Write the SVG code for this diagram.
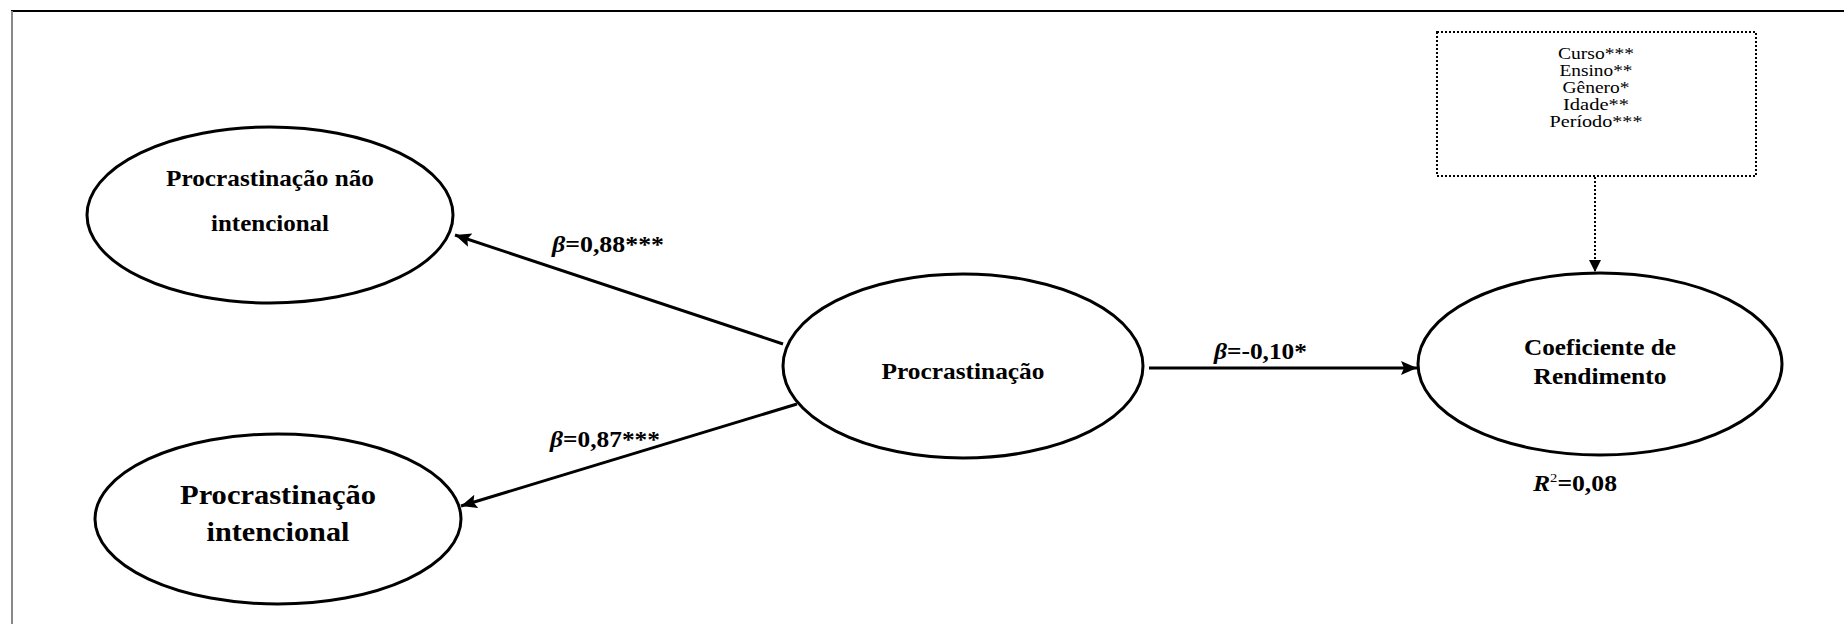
<svg xmlns="http://www.w3.org/2000/svg" width="1844" height="624" viewBox="0 0 1844 624">
<style>
.node ellipse{fill:#fff;stroke:#000;stroke-width:3}
.t{font-family:"Liberation Serif","Times New Roman",serif;font-weight:bold;fill:#000;text-anchor:middle}
.cov{font-family:"Liberation Serif","Times New Roman",serif;font-size:16px;fill:#000;text-anchor:middle}
.edge{stroke:#000;stroke-width:3;fill:none}
.lbl{font-family:"Liberation Serif","Times New Roman",serif;font-weight:bold;font-size:23px;fill:#000}
</style>
<defs>
<marker id="ah" markerUnits="userSpaceOnUse" markerWidth="18" markerHeight="16" refX="16" refY="7" orient="auto">
<path d="M0,0 L16,7 L0,14 L3,7 z" fill="#000"/>
</marker>
<marker id="ahs" markerUnits="userSpaceOnUse" markerWidth="14" markerHeight="14" refX="12" refY="6" orient="auto">
<path d="M0,0 L12,6 L0,12 z" fill="#000"/>
</marker>
</defs>
<rect width="1844" height="624" fill="#fff"/>
<line x1="11" y1="11" x2="1844" y2="11" stroke="#000" stroke-width="2"/>
<line x1="12" y1="11" x2="12" y2="624" stroke="#888" stroke-width="2"/>

<g id="connectors">
<line class="edge" x1="783" y1="344" x2="455" y2="235" marker-end="url(#ah)"/>
<line class="edge" x1="797" y1="404" x2="461" y2="506" marker-end="url(#ah)"/>
<line class="edge" x1="1149" y1="368" x2="1417" y2="368" stroke-width="4" marker-end="url(#ah)"/>
<line x1="1595" y1="177" x2="1595" y2="272" stroke="#000" stroke-width="2" stroke-dasharray="2,2" marker-end="url(#ahs)"/>
<text class="lbl" x="552" y="252" textLength="112" lengthAdjust="spacingAndGlyphs"><tspan font-style="italic">β</tspan>=0,88***</text>
<text class="lbl" x="550" y="447" textLength="110" lengthAdjust="spacingAndGlyphs"><tspan font-style="italic">β</tspan>=0,87***</text>
<text class="lbl" x="1214" y="359" textLength="93" lengthAdjust="spacingAndGlyphs"><tspan font-style="italic">β</tspan>=-0,10*</text>
</g>

<g id="node-pni" class="node">
<ellipse cx="270" cy="215" rx="183" ry="88"/>
<text class="t" x="270" y="186" font-size="24" textLength="208" lengthAdjust="spacingAndGlyphs">Procrastinação não</text>
<text class="t" x="270" y="231" font-size="24" textLength="118" lengthAdjust="spacingAndGlyphs">intencional</text>
</g>

<g id="node-pi" class="node">
<ellipse cx="278" cy="519" rx="183" ry="85"/>
<text class="t" x="278" y="504" font-size="28" textLength="196" lengthAdjust="spacingAndGlyphs">Procrastinação</text>
<text class="t" x="278" y="541" font-size="28" textLength="143" lengthAdjust="spacingAndGlyphs">intencional</text>
</g>

<g id="node-p" class="node">
<ellipse cx="963" cy="366" rx="180" ry="92"/>
<text class="t" x="963" y="379" font-size="24" textLength="163" lengthAdjust="spacingAndGlyphs">Procrastinação</text>
</g>

<g id="node-cr" class="node">
<ellipse cx="1600" cy="364" rx="182" ry="91"/>
<text class="t" x="1600" y="355" font-size="24" textLength="152" lengthAdjust="spacingAndGlyphs">Coeficiente de</text>
<text class="t" x="1600" y="384" font-size="24" textLength="133" lengthAdjust="spacingAndGlyphs">Rendimento</text>
<text class="lbl" x="1533" y="491" textLength="84" lengthAdjust="spacingAndGlyphs"><tspan font-style="italic">R</tspan><tspan font-size="13" dy="-9" font-weight="normal">2</tspan><tspan dy="9">=0,08</tspan></text>
</g>

<g id="node-cov">
<rect x="1437" y="32" width="319" height="144" fill="#fff" stroke="#000" stroke-width="2" stroke-dasharray="2,2"/>
<text class="cov" x="1596" y="59" textLength="76" lengthAdjust="spacingAndGlyphs">Curso***</text>
<text class="cov" x="1596" y="76" textLength="73" lengthAdjust="spacingAndGlyphs">Ensino**</text>
<text class="cov" x="1596" y="93" textLength="67" lengthAdjust="spacingAndGlyphs">Gênero*</text>
<text class="cov" x="1596" y="110" textLength="66" lengthAdjust="spacingAndGlyphs">Idade**</text>
<text class="cov" x="1596" y="127" textLength="93" lengthAdjust="spacingAndGlyphs">Período***</text>
</g>
</svg>
